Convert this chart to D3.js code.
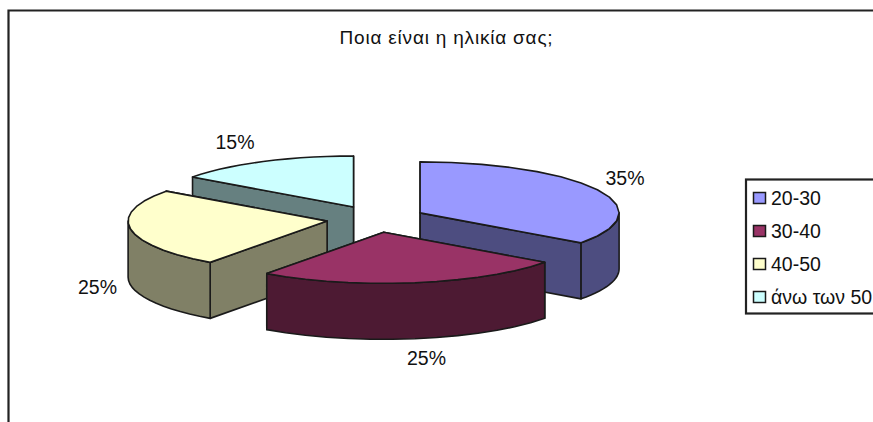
<!DOCTYPE html>
<html>
<head>
<meta charset="utf-8">
<script src="https://cdnjs.cloudflare.com/ajax/libs/d3/7.8.5/d3.min.js"></script>
<style>
  html, body { margin: 0; padding: 0; background: #fff; }
  svg { display: block; }
  text { font-family: "Liberation Sans", Arial, sans-serif; fill: #111; }
</style>
</head>
<body>
<div id="chart-area"></div>
<script>
const title = "Ποια είναι η ηλικία σας;";
const categories = ["20-30", "30-40", "40-50", "άνω των 50"];
const values = [35, 25, 25, 15];
const topColours = ["#9999ff", "#993366", "#ffffcc", "#ccffff"];
const sideColours = ["#4d4d80", "#4d1a33", "#808066", "#668080"];

const width = 873, height = 422;

const centre = { x: 376, y: 219 };
const rx = 199, ry = 51, depth = 56;
const explodeX = 49.5, explodeY = 13.5;

const ink = "#1a1a1a";

const svg = d3.select("#chart-area").append("svg")
  .attr("width", width)
  .attr("height", height);

// chart frame, runs off the right and bottom of the crop
svg.append("path")
  .attr("d", `M8.5,${height}V10.5H${width}`)
  .attr("fill", "none")
  .attr("stroke", "#222")
  .attr("stroke-width", 2.2);

svg.append("text")
  .attr("x", 446.5)
  .attr("y", 44)
  .attr("text-anchor", "middle")
  .style("font-size", "19px")
  .style("letter-spacing", "0.8px")
  .text(title);

// clockwise from 12 o'clock, same as d3.pie
const arcs = d3.pie().sort(null)(values).map((a, i) => {
  const mid = (a.startAngle + a.endAngle) / 2;
  return {
    ...a, i,
    cx: centre.x + Math.sin(mid) * explodeX,
    cy: centre.y - Math.cos(mid) * explodeY
  };
});

const px = (d, t) => d.cx + Math.sin(t) * rx;
const py = (d, t) => d.cy - Math.cos(t) * ry;

const line = d3.line();

function rimPoints(d, from, to, drop) {
  // the original rim is a coarse polyline, so keep few segments
  return d3.range(0, 15).map(k => {
    const t = from + (to - from) * k / 14;
    return [px(d, t), py(d, t) + drop];
  });
}

function radialWall(d, t) {
  return line([[d.cx, d.cy], [px(d, t), py(d, t)], [px(d, t), py(d, t) + depth], [d.cx, d.cy + depth]]) + "Z";
}

function outerWall(d) {
  const from = Math.max(d.startAngle, Math.PI / 2);
  const to = Math.min(d.endAngle, Math.PI * 1.5);
  // slice lies wholly on the back of the pie
  if (from >= to) return null;
  const upper = rimPoints(d, from, to, 0);
  const lower = rimPoints(d, to, from, depth);
  return line(upper.concat(lower)) + "Z";
}

function topFace(d) {
  return line([[d.cx, d.cy]].concat(rimPoints(d, d.startAngle, d.endAngle, 0))) + "Z";
}

// back slices first
const slices = svg.selectAll("g.slice")
  .data(arcs.slice().sort((a, b) => a.cy - b.cy))
  .enter()
  .append("g")
  .attr("class", "slice")
  .attr("stroke", ink)
  .attr("stroke-width", 1.6)
  .attr("stroke-linejoin", "round");

slices.append("path")
  .attr("d", d => radialWall(d, d.endAngle))
  .attr("fill", d => sideColours[d.i]);
slices.append("path")
  .attr("d", d => radialWall(d, d.startAngle))
  .attr("fill", d => sideColours[d.i]);
slices.append("path")
  .attr("d", outerWall)
  .attr("fill", d => sideColours[d.i]);
slices.append("path")
  .attr("d", topFace)
  .attr("fill", d => topColours[d.i]);

// value labels sit by hand around the pie, in data order
const labelX = [625, 426.5, 97.5, 235];
const labelY = [185, 365, 294, 149];

svg.selectAll("text.pct")
  .data(values)
  .enter()
  .append("text")
  .attr("class", "pct")
  .attr("x", (d, i) => labelX[i])
  .attr("y", (d, i) => labelY[i])
  .attr("text-anchor", "middle")
  .style("font-size", "19.5px")
  .text(d => d + "%");

// legend
svg.append("rect")
  .attr("x", 746)
  .attr("y", 179.5)
  .attr("width", 140)
  .attr("height", 134)
  .attr("fill", "#fff")
  .attr("stroke", "#222")
  .attr("stroke-width", 2.2);

const legendY = d3.scalePoint()
  .domain(categories)
  .range([198, 297]);

const legend = svg.selectAll("g.legend")
  .data(categories)
  .enter()
  .append("g")
  .attr("class", "legend")
  .attr("transform", d => `translate(0,${legendY(d)})`);

legend.append("rect")
  .attr("x", 753.5)
  .attr("y", -5.5)
  .attr("width", 12)
  .attr("height", 11)
  .attr("fill", (d, i) => topColours[i])
  .attr("stroke", ink)
  .attr("stroke-width", 1.5);

legend.append("text")
  .attr("x", 771)
  .attr("y", 7)
  .style("font-size", "19.5px")
  .text(d => d);
</script>
</body>
</html>
